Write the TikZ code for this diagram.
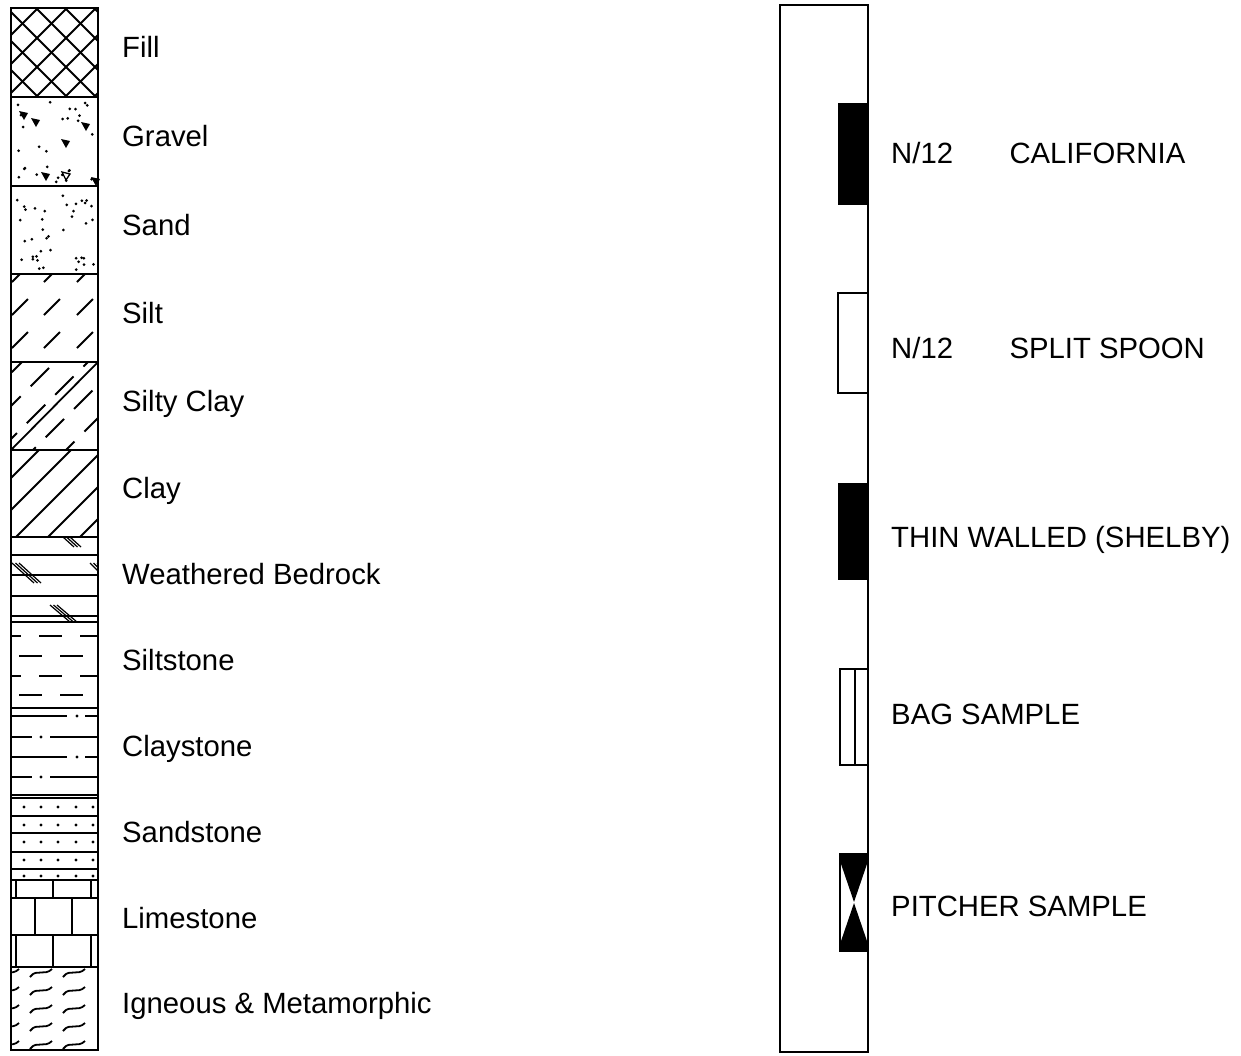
\documentclass[tikz,border=0pt]{standalone}
\usepackage{fontspec}
\setmainfont{Liberation Sans}
\usetikzlibrary{positioning}
\tikzset{
  col/.style={draw, line width=2.2pt},
  pat/.style={line width=1.8pt},
  lbl/.style={anchor=base west, inner sep=0pt, font=\fontsize{29.3}{35}\selectfont},
}
% three short strokes of a weathered bedrock mark
\newcommand\weathmark[4]{%
  \foreach \d in {0,3.5,7} \draw[line width=1.2pt] (#1+\d,#2) -- ++(#3,#4);}

\begin{document}
\begin{tikzpicture}[x=1pt, y=-1pt]
    \useasboundingbox (0,0) rectangle (1241,1055);
    % fill
    \begin{scope}
      \clip (11,8) rectangle (98,97);
      \foreach \a in {-80,-51,...,100} {
        \draw[pat] (\a,8) -- ++(89,89);
        \draw[pat] (\a,97) -- ++(89,-89);
      }
    \end{scope}
    % gravel
    \pgfmathsetseed{12}
    \foreach \k in {1,...,28} \fill ({15+80*rnd},{101+82*rnd}) circle (1.5pt);
    \foreach \x/\y in {23/115, 35/122, 65/143, 85/126, 45/176, 95/181}
      \fill (\x-4,\y-4) -- ++(9,2) -- ++(-4,7) -- cycle;
    \draw[line width=1.3pt] (62,172) -- ++(8,2) -- ++(-4,6) -- cycle;
    % sand
    \foreach \k in {1,...,40} \fill ({14+81*rnd},{190+81*rnd}) circle (1.5pt);
    % silt
    \begin{scope}
      \clip (11,274) rectangle (98,362);
      \foreach \yc in {274,307,340} \foreach \xc in {20,52,85}
        \draw[pat] (\xc-8,\yc+8) -- (\xc+8,\yc-8);
    \end{scope}
    % silty clay
    \begin{scope}
      \clip (11,362) rectangle (98,450);
      \foreach \a/\p in {-66/10, -33/30, 0/2, 33/22, 66/14}
        \draw[pat, dash pattern=on 26pt off 14pt, dash phase=\p pt] (\a,450) -- ++(88,-88);
      \draw[pat] (11,450) -- (98,362);
    \end{scope}
    % clay
    \begin{scope}
      \clip (11,450) rectangle (98,537);
      \foreach \a in {-80,-48,...,100} \draw[pat] (\a,537) -- ++(87,-87);
    \end{scope}
    % weathered bedrock
    \begin{scope}
      \clip (11,537) rectangle (98,622);
      \foreach \y in {555,575,596,616} \draw[pat] (11,\y) -- (98,\y);
      \weathmark{63}{537}{11}{10}
      \weathmark{12}{563}{22}{20}
      \weathmark{90}{563}{8}{8}
      \weathmark{50}{605}{20}{17}
    \end{scope}
    % siltstone
    \begin{scope}
      \clip (11,622) rectangle (98,708);
      \foreach \y in {636,676} \foreach \x in {-2,39,80} \draw[pat] (\x,\y) -- ++(23,0);
      \foreach \y in {656,695} \foreach \x in {19,60} \draw[pat] (\x,\y) -- ++(23,0);
    \end{scope}
    % claystone
    \foreach \y in {716,757} {
      \draw[pat] (11,\y) -- (67,\y);
      \fill (77,\y) circle (1.6pt);
      \draw[pat] (85,\y) -- (98,\y);
    }
    \foreach \y in {737,777} {
      \draw[pat] (11,\y) -- (32,\y);
      \fill (41,\y) circle (1.6pt);
      \draw[pat] (50,\y) -- (98,\y);
    }
    % sandstone
    \foreach \y in {798,816,833,852,869} \draw[pat] (11,\y) -- (98,\y);
    \foreach \y in {807,825,842,860,876} \foreach \x in {24,41,58,76,93}
      \fill (\x,\y) circle (1.6pt);
    % limestone
    \foreach \y in {898,935} \draw[pat] (11,\y) -- (98,\y);
    \foreach \x in {16,53,91} {
      \draw[pat] (\x,880) -- (\x,898);
      \draw[pat] (\x,935) -- (\x,967);
    }
    \foreach \x in {35,72} \draw[pat] (\x,898) -- (\x,935);
    % igneous & metamorphic
    \begin{scope}
      \clip (11,967) rectangle (98,1050);
      \foreach \y in {973,991,1009,1027,1045} \foreach \x in {-3,30,63}
        \draw[pat, rounded corners=1.5pt] (\x,\y+4) -- (\x+4,\y) -- (\x+18,\y-1) -- (\x+22,\y-4);
    \end{scope}
    % layer boxes and names
    \foreach \ytop/\ybot/\name/\txt in {8/97/fill/Fill, 97/186/gravel/Gravel,
      186/274/sand/Sand, 274/362/silt/Silt, 362/450/siltyclay/Silty Clay,
      450/537/clay/Clay, 537/622/wbedrock/Weathered Bedrock,
      622/708/siltstone/Siltstone, 708/795/claystone/Claystone,
      795/880/sandstone/Sandstone, 880/967/limestone/Limestone,
      967/1050/igneous/Igneous \& Metamorphic} {
      \draw[col] (11,\ytop) rectangle (98,\ybot);
      \node[lbl] (\name) at (122,{(\ytop+\ybot)/2+5}) {\txt};
    }
    % sampler column
    \draw[col] (780,5) rectangle (868,1052);
    \fill (838,103) rectangle (868,205);
    \draw[col] (838,293) rectangle (868,393);
    \fill (838,483) rectangle (868,580);
    \draw[col] (840,669) rectangle (868,765);
    \draw[col] (855,669) -- (855,765);
    \draw[col] (840,854) rectangle (868,951);
    \fill (840,854) -- (868,854) -- (868,861) -- (854,902) -- (840,861) -- cycle;
    \fill (840,951) -- (868,951) -- (868,944) -- (854,903) -- (840,944) -- cycle;
    \node[lbl] (calN) at (891,163.5) {N/12};
    \node[lbl, base right=56pt of calN] (cal) {CALIFORNIA};
    \node[lbl] (splitN) at (891,358.5) {N/12};
    \node[lbl, base right=56pt of splitN] (split) {SPLIT SPOON};
    \node[lbl] (shelby) at (891,547.5) {THIN WALLED (SHELBY)};
    \node[lbl] (bag) at (891,724.5) {BAG SAMPLE};
    \node[lbl] (pitcher) at (891,916.5) {PITCHER SAMPLE};
\end{tikzpicture}
\end{document}
